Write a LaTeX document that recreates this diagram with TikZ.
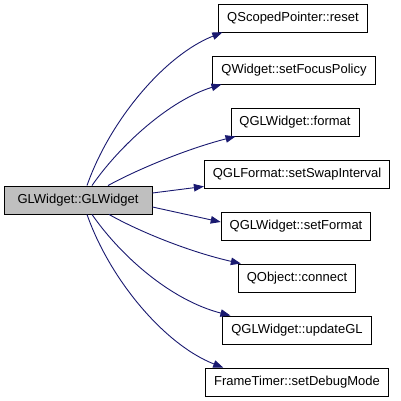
\documentclass[tikz,border=0pt]{standalone}
\usepackage{fontspec}
\setmainfont{Liberation Sans}
\usepackage{tikz}
\usetikzlibrary{arrows.meta,positioning,calc}

\definecolor{edgeblue}{HTML}{191970}
\definecolor{rootgray}{HTML}{BFBFBF}

\begin{document}
\begin{tikzpicture}[x=1pt, y=-1pt,
      fn/.style={rectangle, draw=black, line width=0.9pt, fill=white,
        inner xsep=8.5pt, minimum height=28pt, font=\fontsize{13}{15}\selectfont},
      root/.style={fn, fill=rootgray, minimum width=148pt},
      arr/.style={draw=edgeblue, line width=0.9pt,
        -{Triangle[length=10pt, width=7.5pt, fill=edgeblue]}}
    ]
    \useasboundingbox (0,0) rectangle (400,401);

    % --- caller ---
    \node[root] (glw) at (78,200) {GLWidget::GLWidget};

    % --- callees ---
    \node[fn] (reset)   at (293,18)  {QScopedPointer::reset};
    \node[fn] (focus)   at (294,70)  {QWidget::setFocusPolicy};
    \node[fn] (format)  at (295,122) {QGLWidget::format};
    \node[fn] (swap)    at (297,174) {QGLFormat::setSwapInterval};
    \node[fn] (setfmt)  at (296,226) {QGLWidget::setFormat};
    \node[fn] (connect) at (297,278) {QObject::connect};
    \node[fn] (update)  at (297,330) {QGLWidget::updateGL};
    \node[fn] (debug)   at (297,382) {FrameTimer::setDebugMode};

    % --- calls upward ---
    \draw[arr] ($(glw.north)+(9,0)$) .. controls (110,120) and (165,55) .. ($(reset.south west)+(4,0)$);
    \draw[arr] ($(glw.north)+(14,0)$) .. controls (120,145) and (170,100) .. ($(focus.south west)+(9,0)$);
    \draw[arr] ($(glw.north)+(30,0)$) .. controls (140,168) and (190,148) .. ($(format.south west)+(5,0)$);
    \draw[arr] ($(glw.east)+(0,-7)$) -- ($(swap.south west)+(0,-2)$);

    % --- calls downward ---
    \draw[arr] ($(glw.east)+(0,7)$) -- ($(setfmt.west)+(0,-4)$);
    \draw[arr] ($(glw.south)+(31,0)$) .. controls (140,232) and (190,252) .. ($(connect.north west)+(3,0)$);
    \draw[arr] ($(glw.south)+(14,0)$) .. controls (120,255) and (170,300) .. ($(update.north west)+(8,0)$);
    \draw[arr] ($(glw.south)+(9,0)$) .. controls (110,280) and (165,345) .. ($(debug.north west)+(18,0)$);
  \end{tikzpicture}
\end{document}
